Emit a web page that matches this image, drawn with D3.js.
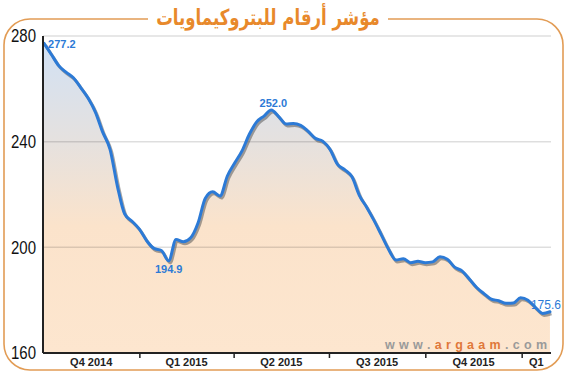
<!DOCTYPE html>
<html>
<head>
<meta charset="utf-8">
<script src="https://cdn.jsdelivr.net/npm/d3@7"></script>
<style>
  html, body { margin: 0; padding: 0; background: #fff; }
  svg { display: block; }
</style>
</head>
<body>
<svg id="chart" width="566" height="376"></svg>
<script>
// ---- data ----
const title = "مؤشر أرقام للبتروكيماويات";
const startDate = "2014-10-02";            // first weekly close (Thursday)
const values = [
  277.2, 273.0, 268.8, 266.3, 264.2, 260.5, 256.5, 251.2, 243.6, 237.1,
  223.2, 212.6, 209.9, 206.9, 202.5, 199.6, 198.8, 194.9, 203.0, 202.1,
  203.6, 209.2, 218.6, 221.0, 219.4, 227.0, 231.9, 236.5, 242.8, 247.5,
  249.7, 252.0, 249.5, 246.7, 246.9, 246.2, 244.0, 241.3, 240.2, 237.1,
  231.5, 229.4, 226.7, 219.7, 215.2, 210.2, 204.7, 199.2, 195.2, 195.7,
  194.2, 194.7, 194.2, 194.5, 196.4, 195.5, 192.5, 191.1, 188.0, 184.8,
  182.5, 180.4, 179.8, 178.8, 178.9, 180.9, 180.0, 177.3, 175.0, 175.6
];
const quarterStarts = ["2014-10-01", "2015-01-01", "2015-04-01", "2015-07-01", "2015-10-01", "2016-01-01"];
const quarterLabels = ["Q4 2014", "Q1 2015", "Q2 2015", "Q3 2015", "Q4 2015", "Q1"];
const domainEnd = "2016-01-29";
const yTicks = [160, 200, 240, 280];
const annotated = [0, 17, 31, 69];   // indices of labelled points
const watermark = ["w w w .", " a r g a a m ", ". c o m"];

// ---- build ----
(function () {
const parse = d3.utcParse("%Y-%m-%d");
const t0 = parse(startDate);
const data = values.map((v, i) => ({ date: d3.utcDay.offset(t0, i * 7), value: v }));

const svg = d3.select("#chart");
const pL = 43, pR = 551, pT = 36, pB = 353;

const x = d3.scaleUtc().domain([parse(quarterStarts[0]), parse(domainEnd)]).range([pL, pR]);
const y = d3.scaleLinear().domain([160, 280]).range([pB, pT]);

// frame
const frameColor = "#e29c55";
svg.append("rect")
  .attr("x", 4).attr("y", 19).attr("width", 559).attr("height", 351)
  .attr("rx", 26).attr("ry", 26)
  .attr("fill", "none").attr("stroke", frameColor).attr("stroke-width", 1.6);
svg.append("rect").attr("x", 148).attr("y", 10).attr("width", 240).attr("height", 16).attr("fill", "#fff");
svg.append("text")
  .attr("transform", "translate(268,25) scale(0.79,1.05)")
  .attr("text-anchor", "middle")
  .attr("font-family", "'DejaVu Sans', sans-serif")
  .attr("font-weight", "bold")
  .attr("font-size", 21)
  .attr("fill", "#e8892b")
  .attr("direction", "rtl")
  .text(title);

// gradient
const defs = svg.append("defs");
const grad = defs.append("linearGradient").attr("id", "areaGrad")
  .attr("gradientUnits", "userSpaceOnUse")
  .attr("x1", 0).attr("y1", pT).attr("x2", 0).attr("y2", pB);
[["0%", "#d0e1f6"], ["33%", "#e5e1df"], ["60%", "#fbe3cb"], ["100%", "#fde6cf"]]
  .forEach(([o, c]) => grad.append("stop").attr("offset", o).attr("stop-color", c));

// area
const area = d3.area().x(d => x(d.date)).y0(pB).y1(d => y(d.value)).curve(d3.curveMonotoneX);
svg.append("path").datum(data).attr("d", area).attr("fill", "url(#areaGrad)");

// gridlines
svg.append("g").selectAll("line").data(yTicks.filter(t => t > 160)).join("line")
  .attr("x1", pL).attr("x2", pR)
  .attr("y1", d => y(d)).attr("y2", d => y(d))
  .attr("stroke", "rgba(0,0,0,0.13)").attr("stroke-width", 1.5);

// line shadow + line
const line = d3.line().x(d => x(d.date)).y(d => y(d.value)).curve(d3.curveMonotoneX);
svg.append("path").datum(data).attr("d", line)
  .attr("transform", "translate(1.5,2)")
  .attr("fill", "none").attr("stroke", "rgba(90,90,90,0.55)").attr("stroke-width", 3)
  .attr("stroke-linejoin", "round");
svg.append("path").datum(data).attr("d", line)
  .attr("fill", "none").attr("stroke", "#2c7ad6").attr("stroke-width", 3)
  .attr("stroke-linejoin", "round").attr("stroke-linecap", "round");

// y axis
const yAxis = svg.append("g").attr("transform", `translate(${pL},0)`)
  .call(d3.axisLeft(y).tickValues(yTicks).tickSize(0).tickPadding(7).tickFormat(d3.format("d")));
yAxis.select(".domain").remove();
yAxis.selectAll("text")
  .attr("font-family", "'Liberation Sans', Arial, sans-serif")
  .attr("font-size", 18).attr("fill", "#111")
  .attr("textLength", 25).attr("lengthAdjust", "spacingAndGlyphs");
svg.append("line").attr("x1", pL).attr("x2", pL).attr("y1", pT).attr("y2", pB)
  .attr("stroke", "#222").attr("stroke-width", 2);

// x axis
const qDates = quarterStarts.map(parse);
const xAxis = svg.append("g").attr("transform", `translate(0,${pB})`)
  .call(d3.axisBottom(x).tickValues(qDates.slice(1)).tickSize(5).tickFormat(""));
xAxis.select(".domain").remove();
xAxis.selectAll(".tick line").attr("stroke", "#222").attr("stroke-width", 1.5);
svg.append("line").attr("x1", pL).attr("x2", pR).attr("y1", pB).attr("y2", pB)
  .attr("stroke", "#222").attr("stroke-width", 2);
const bounds = qDates.concat([parse(domainEnd)]);
svg.append("g").selectAll("text").data(quarterLabels).join("text")
  .attr("x", (d, i) => (x(bounds[i]) + x(bounds[i + 1])) / 2)
  .attr("y", pB + 13)
  .attr("text-anchor", "middle")
  .attr("font-family", "'Liberation Sans', Arial, sans-serif")
  .attr("font-weight", "bold").attr("font-size", 11).attr("fill", "#222")
  .text(d => d);

// watermark
const wm = svg.append("text")
  .attr("x", 385).attr("y", 349)
  .attr("textLength", 162).attr("lengthAdjust", "spacing")
  .attr("font-family", "'Liberation Sans', Arial, sans-serif")
  .attr("font-weight", "bold").attr("font-size", 12.5);
wm.append("tspan").attr("fill", "#9a9a9a").text(watermark[0]);
wm.append("tspan").attr("fill", "#e0783a").text(watermark[1]);
wm.append("tspan").attr("fill", "#9a9a9a").text(watermark[2]);

// point labels
const fmt = d3.format(".1f");
const labelSpec = [
  { anchor: "start", dx: 4, dy: 5, bold: true, size: 11 },
  { anchor: "middle", dx: 0, dy: 12, bold: true, size: 11 },
  { anchor: "middle", dx: 2, dy: -3, bold: true, size: 11 },
  { anchor: "end", dx: 11, dy: -3, bold: false, size: 12 }
];
annotated.forEach((idx, k) => {
  const d = data[idx], s = labelSpec[k];
  svg.append("text")
    .attr("x", x(d.date) + s.dx).attr("y", y(d.value) + s.dy)
    .attr("text-anchor", s.anchor)
    .attr("font-family", "'Liberation Sans', Arial, sans-serif")
    .attr("font-weight", s.bold ? "bold" : "normal")
    .attr("font-size", s.size).attr("fill", "#2c7ad6")
    .text(fmt(d.value));
});
})();
</script>
</body>
</html>
